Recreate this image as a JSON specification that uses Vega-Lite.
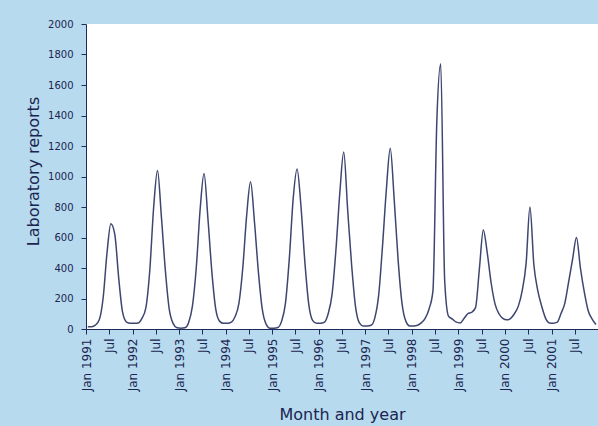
{
  "$schema": "https://vega.github.io/schema/vega-lite/v6.json",
  "width": 512,
  "height": 305,
  "autosize": {"type": "none"},
  "padding": {"left": 86, "top": 24, "right": 0, "bottom": 97},
  "background": "#b7daef",
  "config": {"view": {"fill": "white", "stroke": null}, "font": "DejaVu Sans"},
  "data": {
    "format": {"parse": {"date": "date:'%Y-%m-%d'"}},
    "values": [
      {"date": "1991-01-15", "reports": 15}, {"date": "1991-02-15", "reports": 15}, {"date": "1991-03-15", "reports": 25}, {"date": "1991-04-15", "reports": 60}, {"date": "1991-05-15", "reports": 200}, {"date": "1991-06-15", "reports": 500}, {"date": "1991-07-15", "reports": 690}, {"date": "1991-08-15", "reports": 620}, {"date": "1991-09-15", "reports": 330}, {"date": "1991-10-15", "reports": 110}, {"date": "1991-11-15", "reports": 45}, {"date": "1991-12-15", "reports": 37},
      {"date": "1992-01-15", "reports": 37}, {"date": "1992-02-15", "reports": 40}, {"date": "1992-03-15", "reports": 70}, {"date": "1992-04-15", "reports": 140}, {"date": "1992-05-15", "reports": 380}, {"date": "1992-06-15", "reports": 800}, {"date": "1992-07-15", "reports": 1040}, {"date": "1992-08-15", "reports": 730}, {"date": "1992-09-15", "reports": 380}, {"date": "1992-10-15", "reports": 130}, {"date": "1992-11-15", "reports": 35}, {"date": "1992-12-15", "reports": 8},
      {"date": "1993-01-15", "reports": 5}, {"date": "1993-02-15", "reports": 8}, {"date": "1993-03-15", "reports": 40}, {"date": "1993-04-15", "reports": 150}, {"date": "1993-05-15", "reports": 400}, {"date": "1993-06-15", "reports": 790}, {"date": "1993-07-15", "reports": 1020}, {"date": "1993-08-15", "reports": 720}, {"date": "1993-09-15", "reports": 370}, {"date": "1993-10-15", "reports": 130}, {"date": "1993-11-15", "reports": 50}, {"date": "1993-12-15", "reports": 37},
      {"date": "1994-01-15", "reports": 37}, {"date": "1994-02-15", "reports": 45}, {"date": "1994-03-15", "reports": 80}, {"date": "1994-04-15", "reports": 170}, {"date": "1994-05-15", "reports": 400}, {"date": "1994-06-15", "reports": 750}, {"date": "1994-07-15", "reports": 965}, {"date": "1994-08-15", "reports": 700}, {"date": "1994-09-15", "reports": 370}, {"date": "1994-10-15", "reports": 130}, {"date": "1994-11-15", "reports": 30}, {"date": "1994-12-15", "reports": 5},
      {"date": "1995-01-15", "reports": 5}, {"date": "1995-02-15", "reports": 10}, {"date": "1995-03-15", "reports": 50}, {"date": "1995-04-15", "reports": 170}, {"date": "1995-05-15", "reports": 460}, {"date": "1995-06-15", "reports": 860}, {"date": "1995-07-15", "reports": 1050}, {"date": "1995-08-15", "reports": 800}, {"date": "1995-09-15", "reports": 430}, {"date": "1995-10-15", "reports": 160}, {"date": "1995-11-15", "reports": 55}, {"date": "1995-12-15", "reports": 37},
      {"date": "1996-01-15", "reports": 37}, {"date": "1996-02-15", "reports": 45}, {"date": "1996-03-15", "reports": 100}, {"date": "1996-04-15", "reports": 230}, {"date": "1996-05-15", "reports": 520}, {"date": "1996-06-15", "reports": 900}, {"date": "1996-07-15", "reports": 1160}, {"date": "1996-08-15", "reports": 780}, {"date": "1996-09-15", "reports": 420}, {"date": "1996-10-15", "reports": 150}, {"date": "1996-11-15", "reports": 40}, {"date": "1996-12-15", "reports": 20},
      {"date": "1997-01-15", "reports": 20}, {"date": "1997-02-15", "reports": 25}, {"date": "1997-03-15", "reports": 70}, {"date": "1997-04-15", "reports": 220}, {"date": "1997-05-15", "reports": 540}, {"date": "1997-06-15", "reports": 920}, {"date": "1997-07-15", "reports": 1185}, {"date": "1997-08-15", "reports": 850}, {"date": "1997-09-15", "reports": 450}, {"date": "1997-10-15", "reports": 170}, {"date": "1997-11-15", "reports": 50}, {"date": "1997-12-15", "reports": 20},
      {"date": "1998-01-15", "reports": 20}, {"date": "1998-02-15", "reports": 25}, {"date": "1998-03-15", "reports": 40}, {"date": "1998-04-15", "reports": 70}, {"date": "1998-05-15", "reports": 130}, {"date": "1998-06-15", "reports": 250}, {"date": "1998-07-15", "reports": 1350}, {"date": "1998-08-15", "reports": 1740}, {"date": "1998-09-15", "reports": 320}, {"date": "1998-10-15", "reports": 85}, {"date": "1998-11-15", "reports": 65}, {"date": "1998-12-15", "reports": 45},
      {"date": "1999-01-15", "reports": 40}, {"date": "1999-02-15", "reports": 70}, {"date": "1999-03-15", "reports": 100}, {"date": "1999-04-15", "reports": 110}, {"date": "1999-05-15", "reports": 140}, {"date": "1999-06-15", "reports": 400}, {"date": "1999-07-15", "reports": 650}, {"date": "1999-08-15", "reports": 500}, {"date": "1999-09-15", "reports": 300}, {"date": "1999-10-15", "reports": 165}, {"date": "1999-11-15", "reports": 100}, {"date": "1999-12-15", "reports": 70},
      {"date": "2000-01-15", "reports": 60}, {"date": "2000-02-15", "reports": 70}, {"date": "2000-03-15", "reports": 100}, {"date": "2000-04-15", "reports": 150}, {"date": "2000-05-15", "reports": 250}, {"date": "2000-06-15", "reports": 430}, {"date": "2000-07-15", "reports": 800}, {"date": "2000-08-15", "reports": 420}, {"date": "2000-09-15", "reports": 250}, {"date": "2000-10-15", "reports": 150}, {"date": "2000-11-15", "reports": 70}, {"date": "2000-12-15", "reports": 40},
      {"date": "2001-01-15", "reports": 38}, {"date": "2001-02-15", "reports": 45}, {"date": "2001-03-15", "reports": 100}, {"date": "2001-04-15", "reports": 170}, {"date": "2001-05-15", "reports": 310}, {"date": "2001-06-15", "reports": 460}, {"date": "2001-07-15", "reports": 600}, {"date": "2001-08-15", "reports": 400}, {"date": "2001-09-15", "reports": 240}, {"date": "2001-10-15", "reports": 120}, {"date": "2001-11-15", "reports": 65}, {"date": "2001-12-15", "reports": 30}
    ]
  },
  "mark": {"type": "line", "color": "#3d4670", "strokeWidth": 1.5, "interpolate": "monotone"},
  "encoding": {
    "x": {
      "field": "date",
      "type": "temporal",
      "scale": {"domain": [{"year": 1991, "month": 1, "date": 1}, {"year": 2001, "month": 12, "date": 31}]},
      "axis": {
        "title": "Month and year",
        "tickCount": {"interval": "month", "step": 6},
        "labelExpr": "month(datum.value) == 0 ? 'Jan ' + year(datum.value) : 'Jul'",
        "labelAngle": -90,
        "labelFontSize": 12,
        "labelPadding": 4,
        "labelOverlap": false,
        "labelFlush": false,
        "tickSize": 5,
        "grid": false,
        "domainColor": "#1e2a5a",
        "tickColor": "#1e2a5a",
        "labelColor": "#1b2550",
        "titleColor": "#1b2550",
        "titleFontSize": 16,
        "titleFontWeight": "normal",
        "titleY": 77
      }
    },
    "y": {
      "field": "reports",
      "type": "quantitative",
      "scale": {"domain": [0, 2000], "nice": false},
      "axis": {
        "title": "Laboratory reports",
        "values": [0, 200, 400, 600, 800, 1000, 1200, 1400, 1600, 1800, 2000],
        "format": "d",
        "labelFontSize": 10,
        "labelPadding": 8,
        "tickSize": 5,
        "grid": false,
        "domainColor": "#1e2a5a",
        "tickColor": "#1e2a5a",
        "labelColor": "#1b2550",
        "titleColor": "#1b2550",
        "titleFontSize": 16,
        "titleFontWeight": "normal",
        "titleX": -45,
        "titleY": 147
      }
    }
  }
}
